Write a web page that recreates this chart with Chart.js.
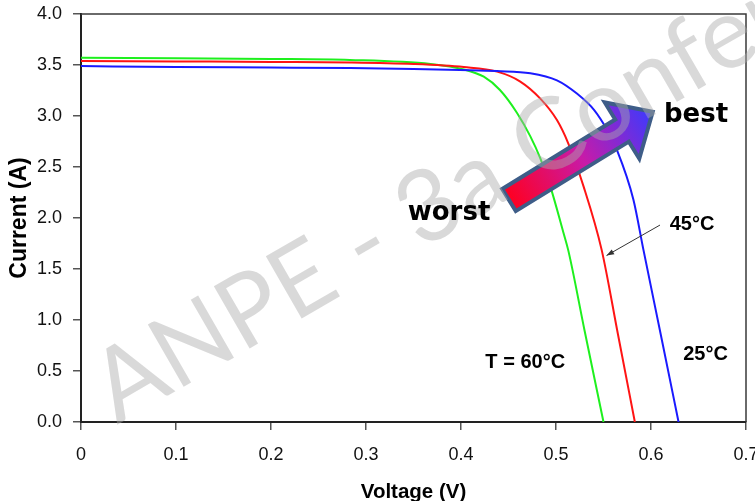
<!DOCTYPE html>
<html><head><meta charset="utf-8">
<script src="https://cdn.jsdelivr.net/npm/chart.js@4.4.0/dist/chart.umd.min.js"></script>
<style>
html,body{margin:0;padding:0;background:#fff;overflow:hidden}
#wrap{width:755px;height:509px;position:relative}
</style>
</head><body>
<div id="wrap"><canvas id="c"></canvas></div>
<script>
// ---- data ----
const voltage25 = [0, 0.10, 0.20, 0.283, 0.350, 0.399, 0.438, 0.473, 0.501, 0.522, 0.540, 0.554, 0.564, 0.5815, 0.592, 0.610, 0.629];
const current25 = [3.49, 3.48, 3.475, 3.47, 3.46, 3.45, 3.44, 3.42, 3.35, 3.22, 3.06, 2.86, 2.67, 2.18, 1.69, 0.87, 0];
const voltage45 = [0, 0.10, 0.20, 0.283, 0.350, 0.403, 0.438, 0.462, 0.4835, 0.501, 0.513, 0.529, 0.548, 0.565, 0.583];
const current45 = [3.54, 3.535, 3.53, 3.525, 3.51, 3.48, 3.435, 3.34, 3.17, 2.96, 2.73, 2.31, 1.69, 0.87, 0];
const voltage60 = [0, 0.10, 0.20, 0.283, 0.368, 0.403, 0.424, 0.441, 0.459, 0.473, 0.4835, 0.494, 0.508, 0.513, 0.530, 0.550];
const current60 = [3.57, 3.565, 3.56, 3.55, 3.51, 3.457, 3.385, 3.255, 3.03, 2.80, 2.585, 2.31, 1.85, 1.68, 0.90, 0];

const xTickValues = [0, 0.1, 0.2, 0.3, 0.4, 0.5, 0.6, 0.7];
const xTickLabels = ['0', '0.1', '0.2', '0.3', '0.4', '0.5', '0.6', '0.7'];
const yTickValues = [0, 0.5, 1.0, 1.5, 2.0, 2.5, 3.0, 3.5, 4.0];
const yTickLabels = ['0.0', '0.5', '1.0', '1.5', '2.0', '2.5', '3.0', '3.5', '4.0'];

const xTitle = 'Voltage (V)';
const yTitle = 'Current (A)';
const seriesNames = ['25°C', '45°C', 'T = 60°C'];

// annotation anchors in data units [V, A]
const labelWorst = ['worst', 0.3874, 1.98];
const labelBest = ['best', 0.6474, 2.944];
const label45 = ['45°C', 0.6432, 1.882];
const label25 = ['25°C', 0.6574, 0.608];
const label60 = ['T = 60°C', 0.4676, 0.529];
const arrowTail = [0.4505, 2.176];
const arrowTip = [0.6018, 3.042];
const pointerFrom = [0.6095, 1.931];
const pointerTo = [0.5532, 1.632];
const watermarkText = 'ANPE - 3a Conference';
const watermarkAnchor = [0.038, -0.03];

const toPts = (xs, ys) => xs.map((v, i) => ({x: v, y: ys[i]}));

const annot = {
  id: 'annot',
  afterDatasetsDraw(chart) {
    const {ctx, chartArea: a, scales: {x, y}} = chart;
    const px = p => [x.getPixelForValue(p[0]), y.getPixelForValue(p[1])];
    ctx.save();
    // top / right frame
    ctx.strokeStyle = '#3a3a3a'; ctx.lineWidth = 1.5;
    ctx.beginPath(); ctx.moveTo(a.left, a.top); ctx.lineTo(a.right, a.top); ctx.lineTo(a.right, a.bottom); ctx.stroke();

    // big gradient arrow
    const [tx, ty] = px(arrowTail), [hx, hy] = px(arrowTip);
    const ang = Math.atan2(hy - ty, hx - tx), L = Math.hypot(hx - tx, hy - ty);
    ctx.save();
    ctx.translate(tx, ty); ctx.rotate(ang);
    const w = 13, hw = 33, hl = 36;
    ctx.beginPath();
    ctx.moveTo(0, -w); ctx.lineTo(L - hl, -w); ctx.lineTo(L - hl, -hw); ctx.lineTo(L, 0);
    ctx.lineTo(L - hl, hw); ctx.lineTo(L - hl, w); ctx.lineTo(0, w); ctx.closePath();
    const g = ctx.createLinearGradient(0, 0, L, 0);
    g.addColorStop(0, '#ff0020'); g.addColorStop(0.5, '#c81aa8'); g.addColorStop(1, '#3a3aff');
    ctx.fillStyle = g; ctx.fill();
    ctx.lineJoin = 'miter'; ctx.strokeStyle = '#3e5d88'; ctx.lineWidth = 4; ctx.stroke();
    ctx.restore();

    // pointer line to 45°C curve
    const [fx, fy] = px(pointerFrom), [ex, ey] = px(pointerTo);
    ctx.strokeStyle = '#333'; ctx.fillStyle = '#333'; ctx.lineWidth = 1;
    ctx.beginPath(); ctx.moveTo(fx, fy); ctx.lineTo(ex, ey); ctx.stroke();
    const pa = Math.atan2(ey - fy, ex - fx);
    ctx.beginPath();
    ctx.moveTo(ex, ey);
    ctx.lineTo(ex - 8 * Math.cos(pa - 0.35), ey - 8 * Math.sin(pa - 0.35));
    ctx.lineTo(ex - 8 * Math.cos(pa + 0.35), ey - 8 * Math.sin(pa + 0.35));
    ctx.closePath(); ctx.fill();

    // watermark
    const [wx, wy] = px(watermarkAnchor);
    ctx.save();
    ctx.translate(wx, wy); ctx.rotate(-30 * Math.PI / 180);
    ctx.font = '100px Lato'; ctx.fillStyle = 'rgba(170,170,170,0.45)';
    ctx.textAlign = 'left'; ctx.textBaseline = 'alphabetic';
    ctx.fillText(watermarkText, 0, 0);
    ctx.restore();

    // texts
    ctx.fillStyle = '#000'; ctx.textAlign = 'center'; ctx.textBaseline = 'alphabetic';
    ctx.font = 'bold 26px "DejaVu Sans"';
    for (const t of [labelWorst, labelBest]) { const [lx, ly] = px([t[1], t[2]]); ctx.fillText(t[0], lx, ly); }
    ctx.font = 'bold 20px "Liberation Sans"';
    for (const t of [label45, label25, label60]) { const [lx, ly] = px([t[1], t[2]]); ctx.fillText(t[0], lx, ly); }
    ctx.restore();
  }
};

const lineDs = (label, xs, ys, color) => ({
  label, data: toPts(xs, ys), showLine: true, borderColor: color, backgroundColor: color,
  borderWidth: 2, pointRadius: 0, cubicInterpolationMode: 'monotone', fill: false
});

new Chart(document.getElementById('c'), {
  type: 'scatter',
  data: {
    datasets: [
      lineDs(seriesNames[0], voltage25, current25, '#1a1aff'),
      lineDs(seriesNames[1], voltage45, current45, '#ff1414'),
      lineDs(seriesNames[2], voltage60, current60, '#1ef01e')
    ]
  },
  options: {
    responsive: true, maintainAspectRatio: false, animation: false,
    layout: {autoPadding: false, padding: {left: 0, top: 14, right: 9, bottom: 0}},
    plugins: {legend: {display: false}, tooltip: {enabled: false}},
    scales: {
      x: {
        type: 'linear', min: 0, max: 0.7,
        afterBuildTicks: s => { s.ticks = xTickValues.map(v => ({value: v})); },
        afterFit: s => { s.height = 87; s.paddingLeft = 0; s.paddingRight = 0; },
        ticks: {callback: (v, i) => xTickLabels[i], color: '#111', padding: 14, maxRotation: 0,
          font: {family: '"Liberation Sans"', size: 18}},
        grid: {display: true, drawOnChartArea: false, drawTicks: true, tickLength: 8, color: '#555', lineWidth: 1.5},
        border: {display: true, color: '#222', width: 2},
        title: {display: true, text: xTitle, color: '#000', padding: {top: 0, bottom: 4},
          font: {family: '"Liberation Sans"', size: 20.5, weight: 'bold'}}
      },
      y: {
        type: 'linear', min: 0, max: 4,
        afterBuildTicks: s => { s.ticks = yTickValues.map(v => ({value: v})); },
        afterFit: s => { s.width = 81; s.paddingTop = 0; s.paddingBottom = 0; },
        ticks: {callback: (v, i) => yTickLabels[i], color: '#111', padding: 11,
          font: {family: '"Liberation Sans"', size: 18}},
        grid: {display: true, drawOnChartArea: false, drawTicks: true, tickLength: 8, color: '#555', lineWidth: 1.5},
        border: {display: true, color: '#222', width: 2},
        title: {display: true, text: yTitle, color: '#000', padding: {top: 6, bottom: 0},
          font: {family: '"Liberation Sans"', size: 23, weight: 'bold'}}
      }
    }
  },
  plugins: [annot]
});
</script>
</body></html>
